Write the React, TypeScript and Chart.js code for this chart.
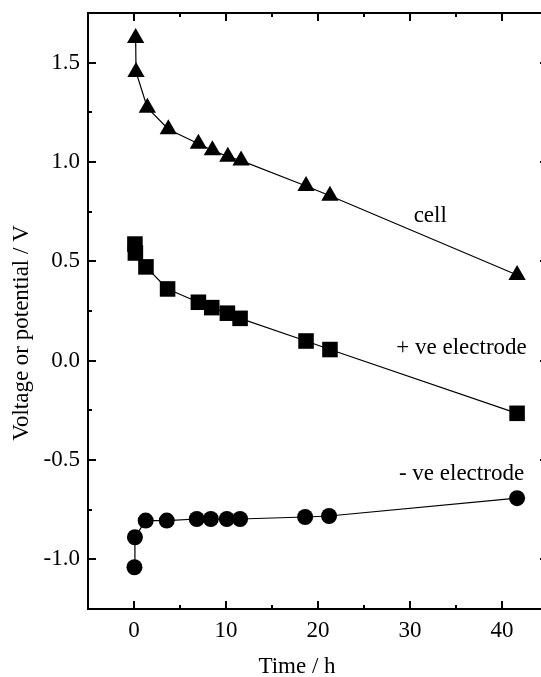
import React, { useEffect, useRef } from "react";
import { Chart, registerables } from "chart.js";

Chart.register(...registerables);

// ---- data ----
const cellTime = [0.18, 0.22, 1.45, 3.73, 7.0, 8.52, 10.2, 11.64, 18.7, 21.3, 41.64];
const cellVoltage = [1.624, 1.453, 1.273, 1.165, 1.092, 1.059, 1.027, 1.007, 0.879, 0.83, 0.431];

const posTime = [0.1, 0.15, 1.3, 3.65, 7.0, 8.45, 10.15, 11.53, 18.7, 21.3, 41.64];
const posPotential = [0.587, 0.542, 0.472, 0.361, 0.294, 0.267, 0.239, 0.213, 0.099, 0.056, -0.265];

const negTime = [0.05, 0.1, 1.27, 3.56, 6.82, 8.35, 10.09, 11.53, 18.6, 21.2, 41.64];
const negPotential = [-1.04, -0.889, -0.805, -0.805, -0.797, -0.797, -0.797, -0.797, -0.787, -0.782, -0.692];

const seriesLabels = ["cell", "+ ve electrode", "- ve electrode"];
// label anchor positions in data units (time, voltage)
const labelTime = [32.2, 35.6, 35.6];
const labelValue = [0.726, 0.066, -0.568];

const xTitle = "Time / h";
const yTitle = "Voltage or potential / V";

const FONT = '"Liberation Serif", "Times New Roman", serif';

function pts(xs: number[], ys: number[]) {
  return xs.map((x, i) => ({ x, y: ys[i] }));
}

const framePlugin = {
  id: "frameAndLabels",
  afterDatasetsDraw(chart: any) {
    const { ctx, chartArea, scales } = chart;
    const { left, right, top, bottom } = chartArea;
    const xs = scales.x;
    const ys = scales.y;
    ctx.save();
    ctx.strokeStyle = "#000";
    ctx.lineWidth = 2;
    ctx.strokeRect(left, top, right - left, bottom - top);

    // inward ticks
    xs.ticks.forEach((t: any) => {
      if (t.value <= xs.min || t.value >= xs.max) return;
      const p = Math.round(xs.getPixelForValue(t.value));
      const len = t.label ? 8 : 4;
      ctx.beginPath();
      ctx.moveTo(p, bottom);
      ctx.lineTo(p, bottom - len);
      ctx.moveTo(p, top);
      ctx.lineTo(p, top + len);
      ctx.stroke();
    });
    ys.ticks.forEach((t: any) => {
      if (t.value <= ys.min + 1e-9 || t.value >= ys.max - 1e-9) return;
      const p = Math.round(ys.getPixelForValue(t.value));
      const len = t.label ? 8 : 4;
      ctx.beginPath();
      ctx.moveTo(left, p);
      ctx.lineTo(left + len, p);
      ctx.moveTo(right, p);
      ctx.lineTo(right - len, p);
      ctx.stroke();
    });

    // series labels
    ctx.fillStyle = "#000";
    ctx.font = `23px ${FONT}`;
    ctx.textAlign = "center";
    ctx.textBaseline = "middle";
    seriesLabels.forEach((s, i) => {
      ctx.fillText(s, xs.getPixelForValue(labelTime[i]), ys.getPixelForValue(labelValue[i]));
    });

    // axis titles
    ctx.fillText(xTitle, 297, 667);
    ctx.translate(22, 333);
    ctx.rotate(-Math.PI / 2);
    ctx.fillText(yTitle, 0, 0);
    ctx.restore();
  },
};

function zeroPad(s: any) {
  s.paddingTop = 0;
  s.paddingBottom = 0;
  s.paddingLeft = 0;
  s.paddingRight = 0;
}

export default function App() {
  const ref = useRef<HTMLCanvasElement | null>(null);

  useEffect(() => {
    if (!ref.current) return;
    const common = {
      showLine: true,
      borderColor: "#000",
      backgroundColor: "#000",
      borderWidth: 1.2,
      pointBorderWidth: 0,
      pointBackgroundColor: "#000",
      pointHoverRadius: 0,
    };
    const chart = new Chart(ref.current, {
      type: "scatter",
      data: {
        datasets: [
          { ...common, label: seriesLabels[0], data: pts(cellTime, cellVoltage), pointStyle: "triangle", pointRadius: 10 },
          { ...common, label: seriesLabels[1], data: pts(posTime, posPotential), pointStyle: "rect", pointRadius: 11 },
          { ...common, label: seriesLabels[2], data: pts(negTime, negPotential), pointStyle: "circle", pointRadius: 8 },
        ],
      },
      options: {
        responsive: false,
        animation: false,
        devicePixelRatio: 1,
        layout: { padding: { top: 13, left: 0, right: 0, bottom: 0 } },
        plugins: {
          legend: { display: false },
          tooltip: { enabled: false },
          title: { display: false },
        },
        events: [],
        scales: {
          x: {
            type: "linear",
            min: -5,
            max: 45,
            grid: { display: false, drawTicks: false },
            border: { display: false },
            ticks: {
              stepSize: 5,
              autoSkip: false,
              maxRotation: 0,
              padding: 8,
              color: "#000",
              font: { family: FONT, size: 23, lineHeight: 1.2 },
              callback: (v: any) => (Number(v) % 10 === 0 ? String(v) : ""),
            },
            afterFit: (s: any) => {
              s.height = 68;
              zeroPad(s);
            },
          },
          y: {
            type: "linear",
            min: -1.25,
            max: 1.75,
            grid: { display: false, drawTicks: false },
            border: { display: false },
            ticks: {
              stepSize: 0.25,
              autoSkip: false,
              padding: 8,
              color: "#000",
              font: { family: FONT, size: 23, lineHeight: 1.2 },
              callback: (v: any) => {
                const n = Number(v);
                return Math.abs(n * 2 - Math.round(n * 2)) < 1e-6 ? n.toFixed(1) : "";
              },
            },
            afterFit: (s: any) => {
              s.width = 88;
              zeroPad(s);
            },
          },
        },
      } as any,
      plugins: [framePlugin],
    });
    return () => chart.destroy();
  }, []);

  return (
    <div
      style={{
        position: "absolute",
        left: 0,
        top: 0,
        width: 541,
        height: 677,
        overflow: "hidden",
        background: "#fff",
      }}
    >
      <canvas ref={ref} width={559} height={677} style={{ display: "block" }} />
    </div>
  );
}
